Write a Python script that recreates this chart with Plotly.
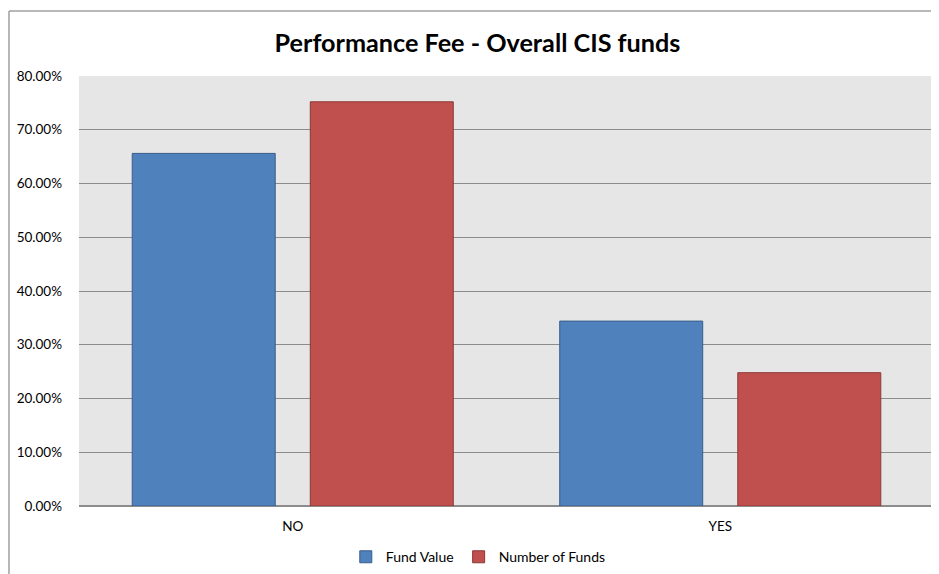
import plotly.graph_objects as go

categories = ["NO", "YES"]
fund_value = [0.656, 0.344]
number_of_funds = [0.752, 0.248]
y_ticks = [0, 0.1, 0.2, 0.3, 0.4, 0.5, 0.6, 0.7, 0.8]

fig = go.Figure()
fig.add_trace(go.Bar(x=categories, y=fund_value, name="Fund Value",
                     marker=dict(color="#4f81bd", line=dict(color="#385d8a", width=1))))
fig.add_trace(go.Bar(x=categories, y=number_of_funds, name="Number of Funds",
                     marker=dict(color="#c0504d", line=dict(color="#8c3836", width=1))))

fig.update_layout(
    width=939, height=574,
    margin=dict(l=71, r=13, t=68, b=76, autoexpand=False),
    paper_bgcolor="white",
    plot_bgcolor="#e6e6e6",
    font=dict(family="Lato", size=13, color="#000000"),
    title=dict(text="<b>Performance Fee - Overall CIS funds</b>", x=0.5, xanchor="center",
               y=0.939, yanchor="middle", font=dict(size=25.2, family="Lato", color="#000000")),
    barmode="group", bargap=0.167, bargroupgap=0.197,
    showlegend=True,
    legend=dict(orientation="h", x=0.467, xanchor="center", y=-0.119, yanchor="middle",
                font=dict(size=14), itemwidth=30, traceorder="normal"),
    xaxis=dict(showgrid=False, ticks="", tickfont=dict(size=13.5), showline=False,
               automargin=False, ticklabelstandoff=10),
    yaxis=dict(range=[0, 0.8], tickvals=y_ticks, tickformat=".2%", showgrid=True,
               gridcolor="#8c8c8c", gridwidth=1, zeroline=True, zerolinecolor="#8c8c8c",
               ticks="", ticklabelstandoff=16, tickfont=dict(size=13.5), automargin=False),
    shapes=[
        dict(type="line", xref="paper", yref="paper", x0=-0.0819, x1=1.1, y0=1.151, y1=1.151,
             line=dict(color="#a0a0a0", width=1.5)),
        dict(type="line", xref="paper", yref="paper", x0=-0.0819, x1=-0.0819, y0=1.151, y1=-0.2,
             line=dict(color="#a0a0a0", width=1.5)),
    ],
)

fig.write_html("out.html")
